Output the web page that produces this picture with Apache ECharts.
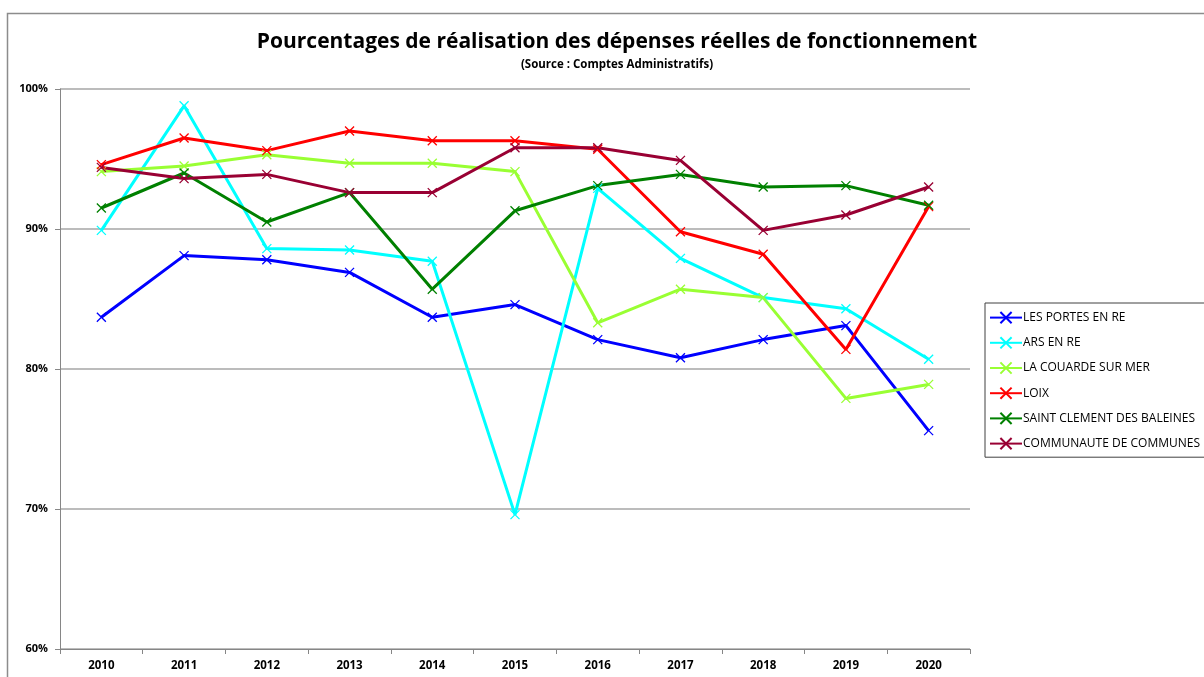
<!DOCTYPE html>
<html>
<head>
<meta charset="utf-8">
<title>Pourcentages de réalisation des dépenses réelles de fonctionnement</title>
<script src="https://cdn.jsdelivr.net/npm/echarts@6/dist/echarts.min.js"></script>
<style>
  html, body { margin: 0; padding: 0; background: #fff; }
  #chart { width: 1204px; height: 677px; }
</style>
</head>
<body>
<div id="chart"></div>
<script>
// années (axe X)
const years = ['2010', '2011', '2012', '2013', '2014', '2015', '2016', '2017', '2018', '2019', '2020']

// pourcentages
const lesPortes = [83.7, 88.1, 87.8, 86.9, 83.7, 84.6, 82.1, 80.8, 82.1, 83.1, 75.6]
const arsEnRe = [89.9, 98.8, 88.6, 88.5, 87.7, 69.6, 92.9, 87.9, 85.1, 84.3, 80.7]
const laCouarde = [94.1, 94.5, 95.3, 94.7, 94.7, 94.1, 83.3, 85.7, 85.1, 77.9, 78.9]
const loix = [94.6, 96.5, 95.6, 97.0, 96.3, 96.3, 95.7, 89.8, 88.2, 81.4, 91.6]
const saintClement = [91.5, 94.0, 90.5, 92.6, 85.7, 91.3, 93.1, 93.9, 93.0, 93.1, 91.7]
const communaute = [94.4, 93.6, 93.9, 92.6, 92.6, 95.8, 95.8, 94.9, 89.9, 91.0, 93.0]

const seriesList = [
  { name: 'LES PORTES EN RE', data: lesPortes, color: '#0000ff' },
  { name: 'ARS EN RE', data: arsEnRe, color: '#00ffff' },
  { name: 'LA COUARDE SUR MER', data: laCouarde, color: '#99ff33' },
  { name: 'LOIX', data: loix, color: '#ff0000' },
  { name: 'SAINT CLEMENT DES BALEINES', data: saintClement, color: '#008000' },
  { name: 'COMMUNAUTE DE COMMUNES', data: communaute, color: '#990033' },
]

const FONT = 'Open Sans'
const crossSymbol = 'path://M0,0L10,10M10,0L0,10'

const chart = echarts.init(document.getElementById('chart'))
chart.setOption({
  animation: false,
  backgroundColor: '#fff',
  graphic: [{
    type: 'rect',
    shape: { x: 7.5, y: 13.5, width: 1400, height: 900 },
    style: { fill: 'none', stroke: '#8c8c8c', lineWidth: 1.5 },
    silent: true,
    z: -10,
  }],
  title: {
    text: 'Pourcentages de réalisation des dépenses réelles de fonctionnement',
    subtext: '(Source : Comptes Administratifs)',
    left: 612,
    textAlign: 'center',
    top: 27,
    itemGap: 6,
    textStyle: { fontFamily: FONT, fontSize: 21, fontWeight: 'bold', color: '#000', letterSpacing: -0.85 },
    subtextStyle: { fontFamily: FONT, fontSize: 11.5, fontWeight: 'bold', color: '#000' },
  },
  legend: {
    orient: 'vertical',
    left: 985,
    top: 303,
    itemGap: 12,
    itemWidth: 32,
    itemHeight: 14,
    padding: [8, 14, 7, 4],
    borderColor: '#404040',
    borderWidth: 1,
    textStyle: { fontFamily: FONT, fontSize: 12, color: '#000', padding: [0, 0, 0, -4] },
    data: seriesList.map(s => s.name),
  },
  grid: {
    left: 60,
    right: 234,
    top: 89,
    bottom: 28,
  },
  xAxis: {
    type: 'category',
    data: years,
    boundaryGap: true,
    axisLine: { lineStyle: { color: '#868686' } },
    axisTick: { show: true, length: 5, lineStyle: { color: '#868686' } },
    axisLabel: { fontFamily: FONT, fontSize: 11.5, fontWeight: 'bold', color: '#000', margin: 11 },
  },
  yAxis: {
    type: 'value',
    min: 60,
    max: 100,
    interval: 10,
    axisLine: { show: true, lineStyle: { color: '#868686' } },
    axisTick: { show: true, length: 5, inside: false, lineStyle: { color: '#868686' } },
    axisLabel: {
      fontFamily: FONT, fontSize: 11, fontWeight: 'bold', color: '#000', margin: 12,
      formatter: v => v + '%',
    },
    splitLine: { lineStyle: { color: '#a6a6a6', width: 1.5 } },
  },
  series: seriesList.map(s => ({
    name: s.name,
    type: 'line',
    data: s.data,
    color: s.color,
    symbol: crossSymbol,
    symbolSize: 9,
    showAllSymbol: true,
    lineStyle: { width: 3, color: s.color },
    itemStyle: { color: 'transparent', borderColor: s.color, borderWidth: 1.3 },
    emphasis: { disabled: true },
  })),
})
</script>
</body>
</html>
